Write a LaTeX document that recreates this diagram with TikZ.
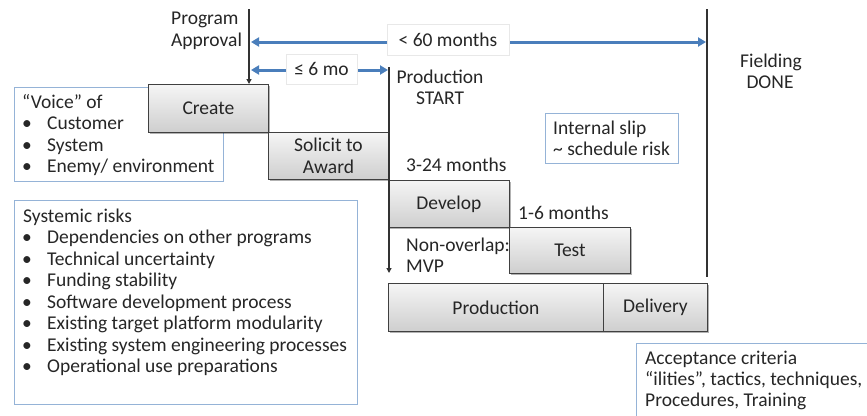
\documentclass[tikz,border=0pt]{standalone}
\usepackage{fontspec}
\setmainfont{Carlito}
\usetikzlibrary{arrows.meta,shadows}
\definecolor{arrowblue}{RGB}{74,126,187}
\definecolor{boxblue}{RGB}{149,179,215}
\begin{document}
\begin{tikzpicture}[x=1pt,y=-1pt,
  txt/.style={font=\fontsize{19.5}{21.5}\selectfont, text=black!85, inner sep=0pt},
  phase/.style={txt, draw=black!75, line width=0.9pt, top color=gray!8, bottom color=gray!38,
    anchor=north west, align=center,
    drop shadow={shadow xshift=1.5pt, shadow yshift=-1.5pt, opacity=0.3, fill=black}},
  infobox/.style={draw=boxblue, line width=1pt, anchor=north west, inner sep=0pt},
  span/.style={draw=arrowblue, line width=3pt, {Triangle[length=8pt,width=9pt]}-{Triangle[length=8pt,width=9pt]}},
  spanlbl/.style={txt, fill=white, draw=gray!18, line width=0.6pt},
  mile/.style={draw=black!80, line width=1.2pt, -{Triangle[length=5pt,width=5pt]}},
  plainline/.style={draw=black!80, line width=1.2pt},
]
\useasboundingbox (0,0) rectangle (867,415);
\clip (0,0) rectangle (867,415);

% info boxes
\node[infobox, minimum width=209pt, minimum height=94pt] (voicebox) at (14,87) {};
\node[infobox, minimum width=343pt, minimum height=204pt] (riskbox) at (14,200) {};
\node[infobox, minimum width=133pt, minimum height=50pt] (slipbox) at (545,113) {};
\node[infobox, minimum width=260pt, minimum height=100pt] (accbox) at (636,343) {};

% voice text
\node[txt, anchor=base west] (voice0) at (22,108) {“Voice” of};
\foreach \t [count=\i] in {Customer, System, {Enemy/ environment}}
  \node[txt, anchor=base west] (voice\i) at (22, 108+21.5*\i) {\makebox[25pt][l]{\textbullet}\t};

% systemic risks text
\node[txt, anchor=base west] (risk0) at (23,222) {Systemic risks};
\foreach \t [count=\i] in {Dependencies on other programs, Technical uncertainty, Funding stability,
    Software development process, Existing target platform modularity,
    Existing system engineering processes, Operational use preparations}
  \node[txt, anchor=base west] (risk\i) at (22, 222+21.5*\i) {\makebox[25pt][l]{\textbullet}\t};

% internal slip text
\node[txt, anchor=base west] (slip1) at (553,134) {Internal slip};
\node[txt, anchor=base west] (slip2) at (553,155) {\textasciitilde\ schedule risk};

% acceptance text
\node[txt, anchor=base west] (acc1) at (645,364) {Acceptance criteria};
\node[txt, anchor=base west] (acc2) at (645,385) {“ilities”, tactics, techniques,};
\node[txt, anchor=base west] (acc3) at (645,406) {Procedures, Training};

% phase boxes
\node[phase, minimum width=120pt, minimum height=48pt] (create) at (148,84) {Create};
\node[phase, minimum width=120pt, minimum height=47pt] (solicit) at (268,132) {Solicit to\\Award};
\node[phase, minimum width=121pt, minimum height=47pt] (develop) at (388,180) {Develop};
\node[phase, minimum width=121pt, minimum height=46pt] (test) at (509,227) {Test};
\node[phase, minimum width=215pt, minimum height=48pt] (production) at (388,283) {Production};
\node[phase, minimum width=104pt, minimum height=48pt] (delivery) at (603,283) {Delivery};

% milestone lines
\coordinate (apTop) at (249,9);
\coordinate (apBot) at (249,84);
\draw[mile] (apTop) -- (apBot);
\coordinate (psTop) at (389,67);
\coordinate (psBot) at (389,273);
\draw[mile] (psTop) -- (psBot);
\coordinate (fdTop) at (707,9);
\coordinate (fdBot) at (707,277);
\draw[plainline] (fdTop) -- (fdBot);

% spans
\coordinate (l60) at (251,42);
\coordinate (r60) at (706,42);
\draw[span] (l60) -- (r60);
\node[spanlbl, minimum width=122pt, minimum height=31pt] (lbl60) at (448,39.5) {< 60 months};
\coordinate (l6) at (251,70);
\coordinate (r6) at (388,70);
\draw[span] (l6) -- (r6);
\node[spanlbl, minimum width=71pt, minimum height=30pt] (lbl6) at (321.5,69) {≤ 6 mo};

% milestone labels
\node[txt, anchor=base west] (pa1) at (171,24) {Program};
\node[txt, anchor=base west] (pa2) at (171,46) {Approval};
\node[txt, anchor=base] (ps1) at (440,83) {Production};
\node[txt, anchor=base] (ps2) at (440,104) {START};
\node[txt, anchor=base] (fd1) at (771,67) {Fielding};
\node[txt, anchor=base] (fd2) at (770,88) {DONE};

% duration labels
\node[txt, anchor=base west] (d324) at (406,171) {3-24 months};
\node[txt, anchor=base west] (d16) at (518,219) {1-6 months};
\node[txt, anchor=base west] (no1) at (406,251) {Non-overlap:};
\node[txt, anchor=base west] (no2) at (406,272) {MVP};
\end{tikzpicture}
\end{document}
